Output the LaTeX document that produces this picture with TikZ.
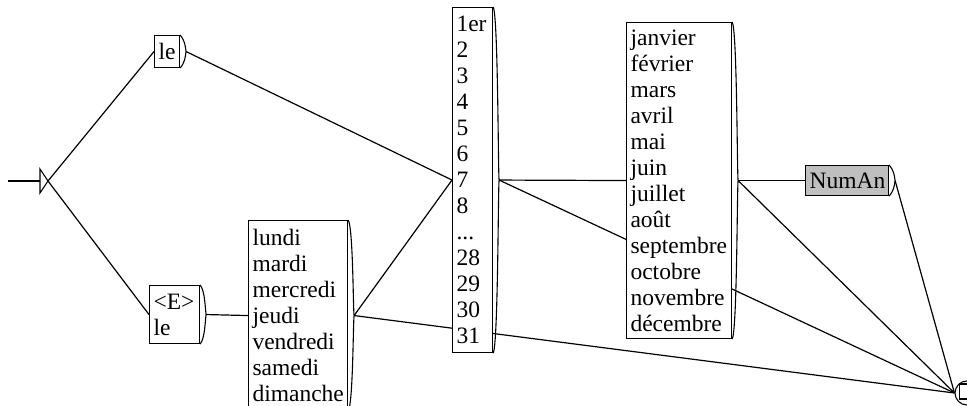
\documentclass[tikz,border=0pt]{standalone}
\usepackage{fontspec}
\setmainfont{Liberation Serif}
\usetikzlibrary{backgrounds}

% right end of a Unitex box: the small bracket with its output point
\newcommand{\outbracket}[1]{%
  \coordinate (#1-out) at ([xshift=6pt]#1.east);
  \draw (#1.north east) .. controls +(5,6) and +(-1,-6) .. (#1-out)
    .. controls +(-1,6) and +(5,-6) .. (#1.south east);}

\begin{document}
\begin{tikzpicture}[x=1pt, y=-1pt, line width=1.1pt,
    graphbox/.style={draw, fill=white, anchor=north west, align=left, inner xsep=4pt, inner ysep=0pt, font=\fontsize{23.5}{26}\selectfont},
    greybox/.style={graphbox, fill=black!25},
    trans/.style={line width=1.2pt}]
        \useasboundingbox (0,0) rectangle (967,406);

        \node[graphbox, text width=17pt, minimum height=32pt] (le) at (154,35) {le};
        \node[graphbox, text width=42pt, minimum height=58pt] (ele) at (149,285) {\textless E\textgreater\\le};
        \node[graphbox, text width=91pt, minimum height=190pt] (days) at (248,220) {lundi\\mardi\\mercredi\\jeudi\\vendredi\\samedi\\dimanche};
        \node[graphbox, text width=32pt, minimum height=345pt] (nums) at (452,7) {1er\\2\\3\\4\\5\\6\\7\\8\\...\\28\\29\\30\\31};
        \node[graphbox, text width=97pt, minimum height=316pt] (months) at (626,22) {janvier\\février\\mars\\avril\\mai\\juin\\juillet\\août\\septembre\\octobre\\novembre\\décembre};
        \node[greybox, text width=75pt, minimum height=30pt] (numan) at (805,165) {NumAn};

        \outbracket{le}
        \outbracket{ele}
        \outbracket{days}
        \outbracket{nums}
        \outbracket{months}
        \outbracket{numan}

        % initial and final states
        \coordinate (init) at (48,181);
        \coordinate (entry) at (8,181);
        \draw (init) -- ++(-8,-12) -- ++(0,24) -- cycle;
        \draw (entry) -- ([xshift=-8pt]init);
        \node[draw, circle, minimum size=24pt, inner sep=0pt] (final) at (967,393) {};
        \node[draw, minimum size=15pt, inner sep=0pt] (finalsq) at (967,391.5) {};

        \begin{scope}[on background layer]
            \fill[white] (0,0) rectangle (967,406);
            \draw[trans] (init) -- (le.west);
            \draw[trans] (init) -- (ele.west);
            \draw[trans] (le-out) -- (nums.west);
            \draw[trans] (ele-out) -- (days.west);
            \draw[trans] (days-out) -- (nums.west);
            \draw[trans] (days-out) -- (final.west);
            \draw[trans] (nums-out) -- (months.west);
            \draw[trans] (nums-out) -- (final.west);
            \draw[trans] (months-out) -- (numan.west);
            \draw[trans] (months-out) -- (final.west);
            \draw[trans] (numan-out) -- (final.west);
        \end{scope}
\end{tikzpicture}
\end{document}
